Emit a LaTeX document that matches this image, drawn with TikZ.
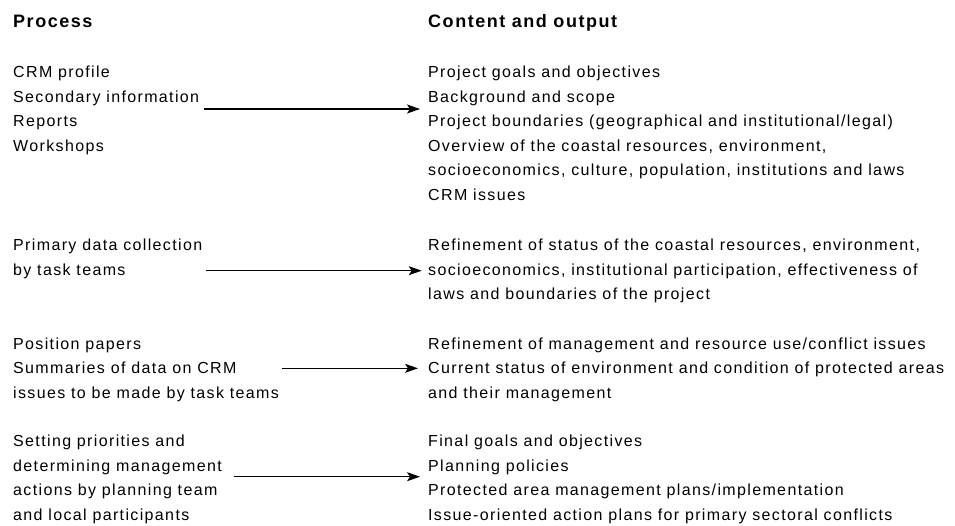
\documentclass[tikz,border=0pt]{standalone}
\usepackage{fontspec}
\setmainfont{Liberation Sans}[LetterSpace=8.5]
\usetikzlibrary{arrows.meta}
\begin{document}
\begin{tikzpicture}[x=1pt,y=-1pt,
  txt/.style={anchor=base west, inner sep=0pt, align=left, font=\fontsize{16}{24.5}\selectfont},
  hdr/.style={anchor=base west, inner sep=0pt, font=\fontsize{18}{22}\selectfont\bfseries},
  arr/.style={-{Stealth[length=13pt,width=9pt,inset=3pt]}, line width=1.2pt}]
\fill[white] (0,0) rectangle (955,525);
\useasboundingbox (0,0) rectangle (955,525);
% anchor base = baseline of the last line of each node
\node[hdr] (hp) at (13,27) {Process};
\node[hdr] (hc) at (428,27) {Content and output};
\node[txt] (p1) at (13,151.2) {CRM profile\\Secondary information\\Reports\\Workshops};
\node[txt] (c1) at (428,200) {Project goals and objectives\\Background and scope\\Project boundaries (geographical and institutional/legal)\\Overview of the coastal resources, environment,\\socioeconomics, culture, population, institutions and laws\\CRM issues};
\node[txt] (p2) at (13,275) {Primary data collection\\by task teams};
\node[txt] (c2) at (428,299.5) {Refinement of status of the coastal resources, environment,\\socioeconomics, institutional participation, effectiveness of\\laws and boundaries of the project};
\node[txt] (p3) at (13,398.3) {Position papers\\Summaries of data on CRM\\issues to be made by task teams};
\node[txt] (c3) at (428,398.3) {Refinement of management and resource use/conflict issues\\Current status of environment and condition of protected areas\\and their management};
\node[txt] (p4) at (13,520.2) {Setting priorities and\\determining management\\actions by planning team\\and local participants};
\node[txt] (c4) at (428,520.2) {Final goals and objectives\\Planning policies\\Protected area management plans/implementation\\Issue-oriented action plans for primary sectoral conflicts};
\coordinate (a1) at (0,109);
\coordinate (a2) at (0,270.7);
\coordinate (a3) at (0,368.3);
\coordinate (a4) at (0,476.7);
\draw[arr] ([xshift=5pt]p1.east |- a1) -- ([xshift=-8pt]c1.west |- a1);
\draw[arr] ([xshift=4pt]p2.east |- a2) -- ([xshift=-6.3pt]c2.west |- a2);
\draw[arr] ([xshift=2.5pt]p3.east |- a3) -- ([xshift=-10pt]c3.west |- a3);
\draw[arr] ([xshift=12pt]p4.east |- a4) -- ([xshift=-8pt]c4.west |- a4);
\end{tikzpicture}
\end{document}
